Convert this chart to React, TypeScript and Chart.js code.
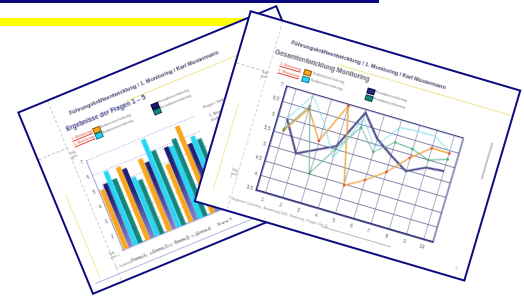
import React, { useEffect, useRef } from "react";
import { Chart, registerables } from "chart.js";
Chart.register(...registerables);

// ---------- Bar chart data (left sheet) ----------
const barCategories = ["Frage 1", "Frage 2", "Frage 3", "Frage 4", "Frage 5"];
const barSelbst1 = [4.95, 5.9, 5.85, 4.9, 6.85]; // orange
const barFremd1 = [5.25, 5.65, 5.5, 5.9, 5.55]; // navy
const barSelbst2 = [5.95, 4.95, 6.9, 5.85, 5.9]; // cyan
const barFremd2 = [5.3, 4.65, 6.0, 6.2, 5.6]; // teal
const barYTickLabels = ["", "2", "3", "4", "5", "6", "7"];

// ---------- Line chart data (right sheet) ----------
const lineCategories = ["1.", "2", "3", "4", "5", "6", "7.", "8", "9", "10"];
const lineSelbst1 = [5.6, 6.5, 5.6, 6.95, 4.45, 4.8, 5.25, 5.9, 6.4, 6.4]; // orange
const lineFremd1 = [6.0, 5.0, 5.3, 5.6, 6.9, 6.2, 5.8, 5.45, 5.75, 5.8]; // navy
const lineSelbst2 = [6.0, 6.95, 6.2, 5.2, 6.7, 5.9, 6.75, 6.8, 6.8, 6.45]; // cyan
const lineFremd2 = [5.65, 6.6, 4.5, 5.5, 6.4, 5.75, 6.25, 6.2, 6.0, 6.2]; // green
const lineYTickLabels = ["3,5", "4", "4,5", "5", "5,5", "6", "6,5", "7"];

const FONT = '"Liberation Sans", Arial, sans-serif';
const NAVY = "#0c0c7e";
const ORANGE = "#f7a61e";
const CYAN = "#27d6f4";
const TEAL = "#13857a";
const DNAVY = "#1a1a6c";

function Txt(props: any) {
  const { x, y, size, color = "#555", bold = false, underline = false, children } = props;
  return (
    <div
      style={{
        position: "absolute",
        left: x,
        top: y - size * 0.6,
        fontSize: size,
        lineHeight: `${size * 1.2}px`,
        color,
        fontWeight: bold ? 700 : 400,
        textDecoration: underline ? "underline" : "none",
        whiteSpace: "nowrap",
        fontFamily: FONT,
      }}
    >
      {children}
    </div>
  );
}

function Box(props: any) {
  const { x, y, color, border } = props;
  return (
    <div
      style={{
        position: "absolute",
        left: x,
        top: y,
        width: 6,
        height: 4,
        background: color,
        border: `0.6px solid ${border || "#333"}`,
      }}
    />
  );
}

function Line(props: any) {
  const { x, y, w, h, color, dashed } = props;
  return (
    <div
      style={{
        position: "absolute",
        left: x,
        top: y,
        width: w,
        height: h,
        background: dashed ? "transparent" : color,
        borderTop: dashed && h <= 1 ? `1px dashed ${color}` : undefined,
        borderLeft: dashed && w <= 1 ? `1px dashed ${color}` : undefined,
        boxSizing: "border-box",
      }}
    />
  );
}

const frameBorder = {
  id: "frameBorder",
  afterDraw(chart: any, _args: any, opts: any) {
    if (!opts || !opts.color) return;
    const { ctx, chartArea } = chart;
    ctx.save();
    ctx.strokeStyle = opts.color;
    ctx.lineWidth = opts.width || 1;
    ctx.beginPath();
    ctx.moveTo(chartArea.left, chartArea.top);
    ctx.lineTo(chartArea.right, chartArea.top);
    ctx.lineTo(chartArea.right, chartArea.bottom);
    ctx.stroke();
    ctx.restore();
  },
};

function BarCanvas() {
  const ref = useRef<HTMLCanvasElement>(null);
  useEffect(() => {
    const navyFill = (c: any) => {
      const chart = c.chart;
      const area = chart.chartArea;
      if (!area) return DNAVY;
      const g = chart.ctx.createLinearGradient(0, area.top, 0, area.bottom);
      g.addColorStop(0, "#14146a");
      g.addColorStop(0.45, "#25257c");
      g.addColorStop(1, "#8585cc");
      return g;
    };
    const chart = new Chart(ref.current as HTMLCanvasElement, {
      type: "bar",
      data: {
        labels: barCategories,
        datasets: [
          { label: "Selbsteinschätzung 1", data: barSelbst1, backgroundColor: ORANGE },
          { label: "Fremdeinschätzung 1", data: barFremd1, backgroundColor: navyFill },
          { label: "Selbsteinschätzung 2", data: barSelbst2, backgroundColor: CYAN },
          { label: "Fremdeinschätzung 2", data: barFremd2, backgroundColor: TEAL },
        ],
      },
      options: {
        animation: false,
        responsive: false,
        maintainAspectRatio: false,
        layout: { padding: { top: 5, right: 4, left: 0, bottom: 0 } },
        plugins: { legend: { display: false }, tooltip: { enabled: false } },
        datasets: { bar: { categoryPercentage: 0.88, barPercentage: 0.96 } },
        scales: {
          x: {
            grid: { display: false },
            border: { color: "#a8a8dc", width: 1.5 },
            ticks: { font: { size: 4.5, family: FONT }, color: "#555", padding: 3, maxRotation: 0 },
            afterFit: (s: any) => {
              s.height = 14;
            },
          },
          y: {
            min: 1,
            max: 7,
            ticks: {
              stepSize: 1,
              font: { size: 4.5, family: FONT },
              color: "#555",
              padding: 3,
              callback: (_v: any, i: number) => barYTickLabels[i],
            },
            grid: { color: "#8f8fd8", lineWidth: 0.8, drawTicks: false },
            border: { color: "#a0a0d4", width: 1, dash: [1.2, 1.5] },
            afterFit: (s: any) => {
              s.width = 23;
            },
          },
        },
      } as any,
    });
    // dotted grid lines
    (chart.options.scales as any).y.grid.borderDash = [1, 1.5];
    (chart.options.scales as any).y.border.dash = [1, 1.5];
    chart.update();
    return () => chart.destroy();
  }, []);
  return (
    <canvas
      ref={ref}
      width={144}
      height={116}
      style={{ position: "absolute", left: 20, top: 64, width: 144, height: 116 }}
    />
  );
}

function LineCanvas() {
  const ref = useRef<HTMLCanvasElement>(null);
  useEffect(() => {
    const chart = new Chart(ref.current as HTMLCanvasElement, {
      type: "line",
      data: {
        labels: lineCategories,
        datasets: [
          {
            label: "Selbsteinschätzung 2",
            data: lineSelbst2,
            borderColor: "#7cdfea",
            borderWidth: 1,
            pointRadius: 0,
          },
          {
            label: "Fremdeinschätzung 2",
            data: lineFremd2,
            borderColor: "#5aae90",
            borderWidth: 1,
            pointRadius: 1.2,
            pointBackgroundColor: "#2fa84f",
            pointBorderWidth: 0,
          },
          {
            label: "Selbsteinschätzung 1",
            data: lineSelbst1,
            borderColor: "#f2a63a",
            borderWidth: 1.4,
            pointRadius: 1.3,
            pointBackgroundColor: "#e2452c",
            pointBorderWidth: 0,
          },
          {
            label: "Fremdeinschätzung 1",
            data: lineFremd1,
            borderColor: "#4a4a8c",
            borderWidth: 2,
            pointRadius: 0,
          },
        ],
      },
      options: {
        animation: false,
        responsive: false,
        maintainAspectRatio: false,
        layout: { padding: { top: 4, right: 6, left: 0, bottom: 0 } },
        plugins: {
          legend: { display: false },
          tooltip: { enabled: false },
          frameBorder: { color: "#2c2c7c", width: 1 },
        } as any,
        scales: {
          x: {
            offset: true,
            grid: { color: "#9c9cbc", lineWidth: 0.8, offset: false, drawTicks: false },
            border: { color: "#2c2c7c", width: 1.6 },
            ticks: { font: { size: 4.5, family: FONT }, color: "#555", padding: 5, maxRotation: 0 },
            afterFit: (s: any) => {
              s.height = 14;
            },
          },
          y: {
            min: 3.5,
            max: 7,
            ticks: {
              stepSize: 0.5,
              font: { size: 4.5, family: FONT },
              color: "#555",
              padding: 4,
              callback: (_v: any, i: number) => lineYTickLabels[i],
            },
            grid: { color: "#6a6a98", lineWidth: 0.8, drawTicks: false },
            border: { color: "#2c2c7c", width: 1.6 },
            afterFit: (s: any) => {
              s.width = 20;
            },
          },
        },
      } as any,
      plugins: [frameBorder],
    });
    (chart.options.scales as any).y.grid.borderDash = [2, 2];
    (chart.options.scales as any).y.border.dash = undefined;
    chart.update();
    return () => chart.destroy();
  }, []);
  return (
    <canvas
      ref={ref}
      width={210}
      height={129}
      style={{ position: "absolute", left: 35, top: 54, width: 210, height: 129 }}
    />
  );
}

function Sheet(props: any) {
  const { left, top, width, height, angle, z, children } = props;
  return (
    <div
      style={{
        position: "absolute",
        left,
        top,
        width,
        height,
        transform: `rotate(${angle}deg)`,
        transformOrigin: "0 0",
        background: "#fff",
        border: `2.2px solid ${NAVY}`,
        boxSizing: "border-box",
        zIndex: z,
        overflow: "hidden",
        filter: "blur(0.3px)",
      }}
    >
      {children}
    </div>
  );
}

export default function App() {
  return (
    <div
      style={{
        position: "fixed",
        left: 0,
        top: 0,
        width: 524,
        height: 299,
        background: "#fff",
        overflow: "hidden",
        fontFamily: FONT,
      }}
    >
      <div style={{ position: "absolute", left: 0, top: 0, width: 379, height: 3.4, background: "#08087c" }} />
      <div style={{ position: "absolute", left: 0, top: 18.3, width: 262, height: 7.4, background: "#ffff00" }} />

      {/* left sheet: bar chart */}
      <Sheet left={17} top={112} width={281} height={198} angle={-22.4} z={1}>
        <Line x={30} y={0} w={1} h={198} color="#cfcfcf" dashed />
        <Line x={0} y={50} w={32} h={1} color="#bdbdbd" dashed />
        <Line x={11} y={93} w={1} h={90} color="#f4ea9a" />
        <Txt x={46} y={19} size={5.5} bold color="#3c3c66">
          Führungskräfteentwicklung / 1. Monitoring / Karl Mustermann
        </Txt>
        <Line x={103} y={28.5} w={178} h={1} color="#f1e58a" />
        <Txt x={37} y={33} size={6.4} bold color="#3b3b84">
          Ergebnisse der Fragen 1 – 5
        </Txt>
        <Txt x={38} y={44.5} size={3.8} color="#e0463a" underline>1. Monitoring</Txt>
        <Box x={61} y={42} color={ORANGE} border="#8a5a00" />
        <Txt x={69} y={44.5} size={3.8} color="#777">Selbsteinschätzung</Txt>
        <Txt x={38} y={50.5} size={3.8} color="#e0463a" underline>2. Monitoring</Txt>
        <Box x={61} y={48} color={CYAN} border="#147a8a" />
        <Txt x={69} y={50.5} size={3.8} color="#777">Selbsteinschätzung</Txt>
        <Box x={124} y={41.5} color={DNAVY} border="#000040" />
        <Txt x={132} y={43.5} size={3.8} color="#777">Fremdeinschätzung</Txt>
        <Box x={124} y={47.5} color={TEAL} border="#064a42" />
        <Txt x={132} y={49.5} size={3.8} color="#777">Fremdeinschätzung</Txt>
        <Txt x={172} y={65} size={4.2} color="#666">Frage / Item</Txt>
        <Txt x={174} y={75} size={4.2} color="#666">1.  Bitte</Txt>
        <Txt x={174} y={80} size={4.2} color="#666">    Ziele</Txt>
        <Txt x={31} y={58} size={3.2} color="#777">Soll-</Txt>
        <Txt x={31} y={61.5} size={3.2} color="#777">wert:</Txt>
        <Txt x={31} y={65} size={3.2} color="#777">7</Txt>
        <Txt x={29} y={166} size={3.2} color="#777">Soll-</Txt>
        <Txt x={29} y={169.5} size={3.2} color="#777">wert: 1</Txt>
        <BarCanvas />
        <Txt x={30} y={181} size={3.2} color="#888">
          © Jürgensen Consulting · Auswertung 2006 · Monitoring / Fragen 1 bis 5
        </Txt>
        <Line x={5} y={186} w={270} h={1} color="#b4b4e2" />
      </Sheet>

      {/* right sheet: line chart */}
      <Sheet left={250} top={10} width={283} height={200} angle={16.4} z={2}>
        <Line x={32} y={0} w={1} h={200} color="#d2d2d2" dashed />
        <Line x={0} y={52} w={34} h={1} color="#bdbdbd" dashed />
        <Line x={13} y={90} w={1} h={90} color="#f4ea9a" />
        <Line x={267} y={57} w={2} h={38} color="#c6c6c6" />
        <Txt x={47} y={17} size={5.5} bold color="#3c3c66">
          Führungskräfteentwicklung / 1. Monitoring / Karl Mustermann
        </Txt>
        <Line x={98} y={25} w={185} h={1} color="#f1e58a" />
        <Txt x={34} y={31} size={6.6} bold color="#5e5e6e">
          Gesamtentwicklung Monitoring
        </Txt>
        <Txt x={42} y={41.5} size={3.8} color="#e0463a" underline>1. Monitoring</Txt>
        <Box x={67} y={39} color={ORANGE} border="#8a5a00" />
        <Txt x={76} y={41.5} size={3.8} color="#777">Selbsteinschätzung</Txt>
        <Txt x={42} y={48} size={3.8} color="#e0463a" underline>2. Monitoring</Txt>
        <Box x={67} y={45.5} color={CYAN} border="#147a8a" />
        <Txt x={76} y={48} size={3.8} color="#777">Selbsteinschätzung</Txt>
        <Box x={133} y={39} color="#2a2a78" border="#000040" />
        <Txt x={141} y={41} size={3.8} color="#777">Fremdeinschätzung</Txt>
        <Box x={133} y={46} color={TEAL} border="#064a42" />
        <Txt x={141} y={48} size={3.8} color="#777">Fremdeinschätzung</Txt>
        <Txt x={27} y={55} size={3.2} color="#777">Soll-</Txt>
        <Txt x={27} y={58.5} size={3.2} color="#777">wert:</Txt>
        <Txt x={27} y={62} size={3.2} color="#777">7</Txt>
        <Txt x={26} y={157} size={3.2} color="#777">Soll-</Txt>
        <Txt x={26} y={160.5} size={3.2} color="#777">wert:</Txt>
        <Txt x={26} y={164} size={3.2} color="#777">1</Txt>
        <LineCanvas />
        <Txt x={30} y={185} size={3.2} color="#888">
          © Jürgensen Consulting · Auswertung 2006 · Monitoring / Fragen 1 bis 10
        </Txt>
        <Line x={128} y={185} w={72} h={1} color="#b8b8c8" />
        <Txt x={268} y={188} size={3.4} color="#777">1</Txt>
      </Sheet>
    </div>
  );
}
